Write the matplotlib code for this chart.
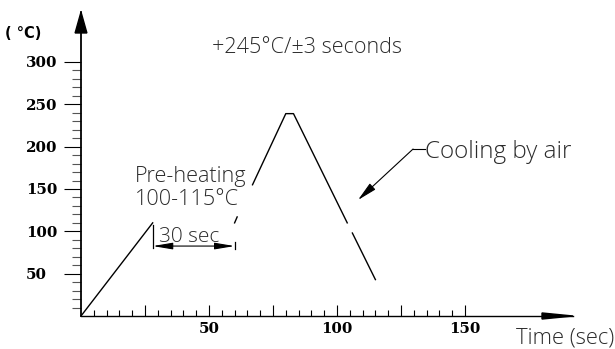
import numpy as np
import matplotlib.pyplot as plt

# reflow profile (nan = gaps left in the original line art)
time_s = [0, 28, np.nan, 60, 61, np.nan, 67, 80, 83, 104, np.nan, 106, 115]
temp_c = [0, 110, np.nan, 110, 117, np.nan, 155, 239, 239, 110, np.nan, 98, 43]

y_major = [50, 100, 150, 200, 250, 300]
y_minor = [t for t in range(10, 300, 10) if t % 50]
x_major = [25, 50, 75, 100, 125, 150]
x_labels = ["", "50", "", "100", "", "150"]
x_minor = [t for t in range(5, 150, 5) if t % 25]

preheat_start, preheat_end = 28, 60
cool_from, cool_to = (129.7, 197.2), (108.2, 137)

txt = dict(family="Open Sans", color="#2b2b2b", weight="light")

fig = plt.figure(figsize=(6.15, 3.49), dpi=100)
ax = fig.add_axes([81 / 615, 33 / 349, 492 / 615, 304 / 349])
ax.set_xlim(0, 492 / 2.56)
ax.set_ylim(0, 304 / 0.8467)

for s in ("top", "right"):
    ax.spines[s].set_visible(False)
ax.spines["left"].set_linewidth(1.3)
ax.spines["bottom"].set_linewidth(1.0)

# axis arrowheads
ax.fill([-0.012, 0.012, 0], [0.931, 0.931, 1.0], color="black",
        transform=ax.transAxes, clip_on=False)
ax.fill([0.937, 0.937, 1.0], [-0.010, 0.010, 0], color="black",
        transform=ax.transAxes, clip_on=False)

ax.set_yticks(y_major)
ax.set_yticks(y_minor, minor=True)
ax.set_yticklabels([str(v) for v in y_major], family="DejaVu Serif",
                   weight="bold", fontsize=10.8, ha="left")
ax.tick_params(axis="y", which="major", direction="out", length=12.5,
               width=0.8, pad=27)
ax.tick_params(axis="y", which="minor", direction="out", length=6.5,
               width=0.8, color="#555555")

ax.set_xticks(x_major)
ax.set_xticks(x_minor, minor=True)
ax.set_xticklabels(x_labels, family="DejaVu Serif", weight="bold", fontsize=10.8)
ax.tick_params(axis="x", which="major", direction="in", length=8,
               width=0.8, pad=4.5)
ax.tick_params(axis="x", which="minor", direction="in", length=4.3, width=0.8)

ax.plot(time_s, temp_c, color="black", lw=1.0, clip_on=False)

# 30 sec bracket
ax.plot([preheat_start, preheat_start], [107, 80], color="black", lw=0.9)
ax.plot([preheat_end, preheat_end], [87, 79], color="black", lw=0.9)
ax.annotate("", xy=(preheat_start, 82.6), xytext=(preheat_end, 82.6),
            arrowprops=dict(arrowstyle="<|-|>,head_length=1.2,head_width=0.2",
                            color="black", lw=0.8, shrinkA=0, shrinkB=0))

# cooling leader
ax.plot([cool_from[0], 134.4], [cool_from[1], cool_from[1]], color="black", lw=0.8)
ax.annotate("", xy=cool_to, xytext=cool_from,
            arrowprops=dict(arrowstyle="-|>,head_length=1.2,head_width=0.25",
                            color="black", lw=0.8, shrinkA=0, shrinkB=0))

ax.text(51.2, 310.5, "+245°C/±3 seconds", fontsize=15.5, va="baseline", **txt)
ax.text(21.1, 158, "Pre-heating", fontsize=15.6, va="baseline", **txt)
ax.text(21.1, 131, "100-115°C", fontsize=15.6, va="baseline", **txt)
ax.text(30.5, 87.4, "30 sec", fontsize=15, va="baseline", **txt)
ax.text(134.4, 186.5, "Cooling by air", fontsize=17.5, va="baseline", **txt)
ax.text(170, -32, "Time (sec)", fontsize=15.8, va="baseline", clip_on=False, **txt)
ax.text(-29.5, 328, "( °C)", fontsize=10.5, weight="bold", family="DejaVu Sans",
        va="baseline", clip_on=False)

fig.savefig("out.png", dpi=100)
